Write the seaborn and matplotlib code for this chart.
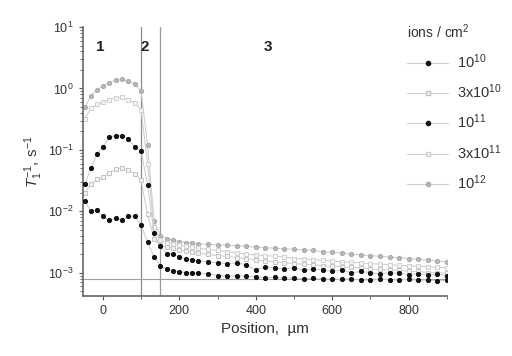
import numpy as np
import pandas as pd
import seaborn as sns
import matplotlib.pyplot as plt
from matplotlib.lines import Line2D
from matplotlib.ticker import LogLocator, MultipleLocator, NullFormatter

sns.set_style('ticks')
plt.rcParams['font.family'] = ['Liberation Sans', 'DejaVu Sans']
plt.rcParams['mathtext.fontset'] = 'custom'
plt.rcParams['mathtext.rm'] = 'Liberation Sans'
plt.rcParams['mathtext.it'] = 'Liberation Sans:italic'
plt.rcParams['text.color'] = '#333333'

# position along the sample, um
position = [-47, -31, -16, 0, 17, 34, 50, 67, 84, 100, 117, 134, 150, 167, 184,
            200, 217, 234, 250, 275, 300, 325, 350, 375, 400, 425, 450, 475,
            500, 525, 550, 575, 600, 625, 650, 675, 700, 725, 750, 775, 800,
            825, 850, 875, 900]

# 1/T1 for each fluence
r_1e10 = [1.45e-2, 1.0e-2, 1.04e-2, 8.3e-3, 7.1e-3, 7.7e-3, 7.1e-3, 8.3e-3, 8.3e-3,
          5.9e-3, 3.2e-3, 1.8e-3, 1.3e-3, 1.15e-3, 1.08e-3, 1.03e-3, 1.0e-3, 1.0e-3,
          9.8e-4, 9.6e-4, 9.0e-4, 8.9e-4, 8.9e-4, 8.7e-4, 8.6e-4, 8.3e-4, 8.4e-4,
          8.1e-4, 8.2e-4, 8.0e-4, 8.1e-4, 7.9e-4, 8.0e-4, 7.8e-4, 7.9e-4, 7.7e-4,
          7.5e-4, 7.8e-4, 7.7e-4, 7.6e-4, 7.8e-4, 7.5e-4, 7.6e-4, 7.4e-4, 7.5e-4]
r_3e10 = [2.0e-2, 2.8e-2, 3.3e-2, 3.6e-2, 4.2e-2, 4.9e-2, 5.1e-2, 4.7e-2, 4.1e-2,
          3.2e-2, 9e-3, 3.6e-3, 2.8e-3, 2.6e-3, 2.5e-3, 2.35e-3, 2.25e-3, 2.15e-3,
          2.1e-3, 2.0e-3, 1.9e-3, 1.85e-3, 1.75e-3, 1.7e-3, 1.6e-3, 1.55e-3, 1.5e-3,
          1.45e-3, 1.4e-3, 1.38e-3, 1.35e-3, 1.3e-3, 1.28e-3, 1.25e-3, 1.22e-3, 1.2e-3,
          1.15e-3, 1.13e-3, 1.1e-3, 1.1e-3, 1.05e-3, 1.05e-3, 1.0e-3, 1.0e-3, 9.8e-4]
r_1e11 = [2.8e-2, 5.0e-2, 8.6e-2, 1.1e-1, 1.6e-1, 1.7e-1, 1.7e-1, 1.5e-1, 1.1e-1,
          9.7e-2, 2.7e-2, 4.4e-3, 2.7e-3, 2.05e-3, 2.0e-3, 1.8e-3, 1.7e-3, 1.6e-3,
          1.55e-3, 1.5e-3, 1.45e-3, 1.4e-3, 1.45e-3, 1.35e-3, 1.1e-3, 1.25e-3, 1.2e-3,
          1.15e-3, 1.2e-3, 1.1e-3, 1.15e-3, 1.1e-3, 1.05e-3, 1.1e-3, 1.0e-3, 1.05e-3,
          1.0e-3, 9.5e-4, 1.0e-3, 9.8e-4, 9.3e-4, 9.6e-4, 9.2e-4, 9.4e-4, 9.0e-4]
r_3e11 = [0.32, 0.48, 0.55, 0.6, 0.66, 0.7, 0.72, 0.66, 0.58, 0.45, 0.06, 5.5e-3,
          3.4e-3, 3.1e-3, 2.9e-3, 2.8e-3, 2.7e-3, 2.6e-3, 2.5e-3, 2.4e-3, 2.3e-3,
          2.2e-3, 2.1e-3, 2.0e-3, 1.95e-3, 1.9e-3, 1.85e-3, 1.8e-3, 1.7e-3, 1.68e-3,
          1.62e-3, 1.6e-3, 1.55e-3, 1.5e-3, 1.48e-3, 1.45e-3, 1.4e-3, 1.38e-3, 1.35e-3,
          1.32e-3, 1.3e-3, 1.28e-3, 1.25e-3, 1.22e-3, 1.2e-3]
r_1e12 = [0.5, 0.75, 0.95, 1.1, 1.25, 1.35, 1.4, 1.3, 1.2, 0.9, 0.12, 7e-3, 4e-3,
          3.6e-3, 3.4e-3, 3.2e-3, 3.1e-3, 3.0e-3, 2.95e-3, 2.9e-3, 2.85e-3, 2.8e-3,
          2.75e-3, 2.7e-3, 2.6e-3, 2.55e-3, 2.5e-3, 2.45e-3, 2.4e-3, 2.35e-3, 2.3e-3,
          2.2e-3, 2.15e-3, 2.1e-3, 2.0e-3, 1.95e-3, 1.9e-3, 1.85e-3, 1.8e-3, 1.75e-3,
          1.7e-3, 1.65e-3, 1.6e-3, 1.55e-3, 1.5e-3]

labels = ['$10^{10}$', '3x$10^{10}$', '$10^{11}$', '3x$10^{11}$', '$10^{12}$']
series = [r_1e10, r_3e10, r_1e11, r_3e11, r_1e12]
# marker, face, edge
styles = [('o', '#111111', '#111111'),
          ('s', '#f2f2f2', '#c4c4c4'),
          ('o', '#111111', '#111111'),
          ('s', '#f4f4f4', '#d0d0d0'),
          ('o', '#b8b8b8', '#a8a8a8')]
line_col = '#cfcfcf'
msize = {'o': 3.0, 's': 2.8}

df = pd.DataFrame({'position': position * len(series),
                   'rate': sum(series, []),
                   'dose': np.repeat(labels, len(position))})

fig, ax = plt.subplots(figsize=(5.12, 3.56), dpi=100)
fig.subplots_adjust(left=0.162, right=0.873, bottom=0.169, top=0.924)

ax.axvline(100, color='#8a8a8a', lw=0.9, zorder=1)
ax.axvline(150, color='#9a9a9a', lw=0.9, zorder=1)
ax.axhline(8e-4, color='#a0a0a0', lw=0.8, zorder=1)

# draw light ones first so black markers sit on top
for i in [4, 3, 1, 2, 0]:
    lab = labels[i]
    m, fc, ec = styles[i]
    sub = df[df['dose'] == lab]
    sns.lineplot(data=sub, x='position', y='rate', ax=ax, color=line_col,
                 lw=0.8, marker=m, markersize=msize[m],
                 markerfacecolor=fc, markeredgecolor=ec, markeredgewidth=0.7,
                 legend=False, zorder=3 if fc == '#111111' else 2)

ax.set_yscale('log')
ax.set_xlim(-52, 900)
ax.set_ylim(4.2e-4, 10)
ax.xaxis.set_major_locator(MultipleLocator(200))
ax.xaxis.set_minor_locator(MultipleLocator(100))
ax.yaxis.set_major_locator(LogLocator(base=10, numticks=10))
ax.yaxis.set_minor_locator(LogLocator(base=10, subs=np.arange(2, 10), numticks=20))
ax.yaxis.set_minor_formatter(NullFormatter())
ax.tick_params(axis='both', which='major', labelsize=9, length=3, width=0.8,
               colors='#555555', labelcolor='#333333')
ax.tick_params(axis='both', which='minor', length=2, width=0.6, colors='#555555')
for s in ['left', 'bottom']:
    ax.spines[s].set_color('#666666')
    ax.spines[s].set_linewidth(1.2)
sns.despine(ax=ax)

ax.set_xlabel('Position,  \u00b5m', fontsize=11, color='#333333')
ax.set_ylabel('$T_1^{-1}$, s$^{-1}$', fontsize=11, color='#333333', labelpad=2)

for txt, xp in [('1', -8), ('2', 110), ('3', 431)]:
    ax.text(xp, 4.7, txt, fontsize=11, fontweight='bold', ha='center',
            va='center', color='#222222')

handles = []
for i, lab in enumerate(labels):
    m, fc, ec = styles[i]
    handles.append(Line2D([], [], color=line_col, lw=0.8, marker=m,
                          markersize=msize[m],
                          markerfacecolor=fc, markeredgecolor=ec))
leg = ax.legend(handles, labels, title='ions / cm$^2$', loc='upper left',
                bbox_to_anchor=(0.77, 0.975), bbox_transform=fig.transFigure,
                frameon=False, fontsize=10.5, title_fontsize=10,
                handlelength=2.8, handletextpad=0.6, labelspacing=0.8,
                alignment='left')
for t in leg.get_texts():
    t.set_color('#333333')

fig.savefig('out.png', dpi=100)
